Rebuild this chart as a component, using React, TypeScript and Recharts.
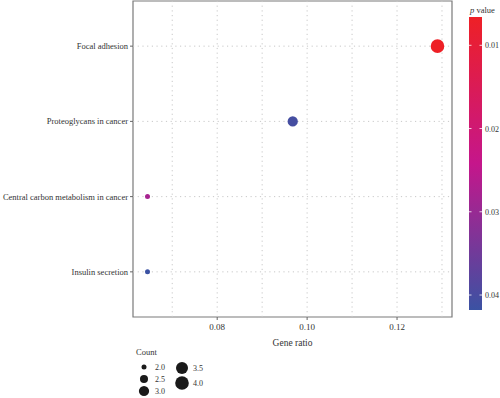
import React from "react";
import {
  ScatterChart,
  Scatter,
  XAxis,
  YAxis,
  ZAxis,
  Cell,
  ReferenceLine,
  ReferenceArea,
} from "recharts";

// ---- data ----
const terms = [
  "Insulin secretion",
  "Central carbon metabolism in cancer",
  "Proteoglycans in cancer",
  "Focal adhesion",
];
const geneRatio = [0.0645, 0.0645, 0.0968, 0.129];
const counts = [2, 2, 3, 4];
const pValues = [0.0418, 0.028, 0.0405, 0.0066];
const xTicks = [0.08, 0.1, 0.12];
const xGrid = [0.07, 0.08, 0.09, 0.1, 0.11, 0.12, 0.13];
const yTicks = [1, 2, 3, 4];
const pTicks = [0.01, 0.02, 0.03, 0.04];
const countLegend = [2.0, 2.5, 3.0, 3.5, 4.0];

const data = terms.map((t, i) => ({
  term: t,
  y: i + 1,
  x: geneRatio[i],
  count: counts[i],
  p: pValues[i],
}));

// ---- scales ----
const xMin = Math.min(...geneRatio);
const xMax = Math.max(...geneRatio);
const xPad = (xMax - xMin) * 0.05;
const xDomain = [xMin - xPad, xMax + xPad];
const yDomain = [0.4, 4.6];

const pMin = Math.min(...pValues);
const pMax = Math.max(...pValues);

const stops = [
  [238, 32, 38],
  [197, 22, 139],
  [59, 82, 163],
];
const toHex = (c: number[]) =>
  "#" + c.map((v) => Math.round(v).toString(16).padStart(2, "0")).join("");
const colorOf = (p: number) => {
  const t = Math.max(0, Math.min(1, (p - pMin) / (pMax - pMin)));
  const seg = t < 0.5 ? 0 : 1;
  const f = t < 0.5 ? t / 0.5 : (t - 0.5) / 0.5;
  const a = stops[seg];
  const b = stops[seg + 1];
  return toHex(a.map((v, k) => v + (b[k] - v) * f));
};

const countDomain = [2, 4];
const areaRange = [Math.PI * 2.5 * 2.5, Math.PI * 6.8 * 6.8];
const radiusOf = (c: number) => {
  const t = (c - countDomain[0]) / (countDomain[1] - countDomain[0]);
  const area = areaRange[0] + t * (areaRange[1] - areaRange[0]);
  return Math.sqrt(area / Math.PI);
};

const FONT = "Liberation Serif, DejaVu Serif, serif";
const TXT = "#333333";

// colour bar geometry
const cbX = 469;
const cbW = 13;
const cbTop = 17;
const cbBottom = 310;
const pToY = (p: number) => cbTop + ((p - pMin) / (pMax - pMin)) * (cbBottom - cbTop);

const YTick = (props: any) => {
  const { x, y, payload } = props;
  return (
    <text
      x={x}
      y={y}
      dy={3}
      textAnchor="end"
      fontSize={8.5}
      fill={TXT}
      style={{ fill: TXT, fontFamily: FONT }}
    >
      {terms[payload.value - 1]}
    </text>
  );
};

const T = (props: any) => (
  <text {...props} fill={TXT} style={{ fill: TXT, fontFamily: FONT }} />
);

export default function App() {
  return (
    <div
      style={{
        position: "absolute",
        left: 0,
        top: 0,
        width: 500,
        height: 398,
        background: "#fff",
        fontFamily: FONT,
        color: TXT,
      }}
    >
      <ScatterChart
        width={500}
        height={398}
        margin={{ top: 1, right: 48, bottom: 0, left: 0 }}
      >
        <XAxis
          type="number"
          dataKey="x"
          domain={xDomain}
          ticks={xTicks}
          allowDataOverflow
          tickFormatter={(v: number) => v.toFixed(2)}
          height={81}
          tickSize={3}
          tickMargin={4}
          axisLine={false}
          tickLine={{ stroke: "#666" }}
          tick={{ fontSize: 9, fill: TXT, fontFamily: FONT }}
        />
        <YAxis
          type="number"
          dataKey="y"
          domain={yDomain}
          ticks={yTicks}
          allowDataOverflow
          width={133}
          tickSize={3}
          tickMargin={2}
          axisLine={false}
          tickLine={{ stroke: "#666" }}
          tick={<YTick />}
        />
        <ZAxis type="number" dataKey="count" domain={countDomain} range={areaRange} />
        {xGrid.map((g) => (
          <ReferenceLine
            key={"xg" + g}
            x={g}
            stroke="#c8c8c8"
            strokeDasharray="1.2 3.5"
            strokeWidth={1}
          />
        ))}
        {yTicks.map((g) => (
          <ReferenceLine
            key={"yg" + g}
            y={g}
            stroke="#c8c8c8"
            strokeDasharray="1.2 3.5"
            strokeWidth={1}
          />
        ))}
        <ReferenceArea
          x1={xDomain[0]}
          x2={xDomain[1]}
          y1={yDomain[0]}
          y2={yDomain[1]}
          fill="none"
          fillOpacity={0}
          stroke="#7a7a7a"
          strokeWidth={1.2}
        />
        <Scatter data={data} isAnimationActive={false} shape="circle">
          {data.map((d, i) => (
            <Cell key={i} fill={colorOf(d.p)} />
          ))}
        </Scatter>
      </ScatterChart>

      <svg
        width={500}
        height={398}
        style={{ position: "absolute", left: 0, top: 0, pointerEvents: "none" }}
      >
        <defs>
          <linearGradient id="pgrad" x1="0" y1="0" x2="0" y2="1">
            {stops.map((s, i) => (
              <stop key={i} offset={i / (stops.length - 1)} stopColor={toHex(s)} />
            ))}
          </linearGradient>
        </defs>
        <T x={292.5} y={346} textAnchor="middle" fontSize={9.5}>
          Gene ratio
        </T>
        <T x={470} y={13} fontSize={8.5}>
          <tspan fontStyle="italic">p</tspan> value
        </T>
        <rect x={cbX} y={cbTop} width={cbW} height={cbBottom - cbTop} fill="url(#pgrad)" />
        {pTicks.map((p) => (
          <g key={p}>
            <line x1={cbX} x2={cbX + 2.5} y1={pToY(p)} y2={pToY(p)} stroke="#fff" strokeWidth={0.8} />
            <line x1={cbX + cbW - 2.5} x2={cbX + cbW} y1={pToY(p)} y2={pToY(p)} stroke="#fff" strokeWidth={0.8} />
            <T x={cbX + cbW + 3} y={pToY(p) + 3} fontSize={8}>
              {p.toFixed(2)}
            </T>
          </g>
        ))}
        <T x={136} y={355} fontSize={8.5}>
          Count
        </T>
        {countLegend.map((c, i) => {
          const col = i < 3 ? 0 : 1;
          const row = i < 3 ? i : i - 3;
          const cx = col === 0 ? 144 : 182;
          const cy = col === 0 ? 367 + row * 12 : 368 + row * 15;
          return (
            <g key={c}>
              <circle cx={cx} cy={cy} r={radiusOf(c)} fill="#1a1a1a" />
              <T x={cx + 11} y={cy + 3} fontSize={8}>
                {c.toFixed(1)}
              </T>
            </g>
          );
        })}
      </svg>
    </div>
  );
}
